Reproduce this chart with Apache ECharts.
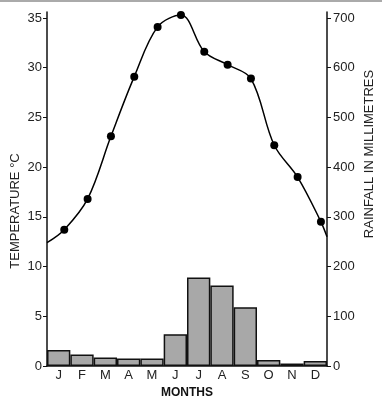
<!DOCTYPE html>
<html>
<head>
<meta charset="utf-8">
<script src="https://cdn.jsdelivr.net/npm/echarts@6/dist/echarts.min.js"></script>
<style>
html,body{margin:0;padding:0;background:#fff;}
#chart{width:382px;height:401px;}
</style>
</head>
<body>
<div id="chart"></div>
<script>
var months = ['J','F','M','A','M','J','J','A','S','O','N','D'];
var temperature = [13.7, 16.8, 23.1, 29.1, 34.1, 35.3, 31.6, 30.3, 28.9, 22.2, 19.0, 14.5];
var rainfall = [32, 23, 17, 15, 15, 64, 178, 162, 118, 12, 5, 10];
var tempStart = 12.4;   // curve value at left edge of the year
var tempEnd = 13.0;     // curve value at right edge of the year
var tempTicks = [0, 5, 10, 15, 20, 25, 30, 35];
var rainTicks = [0, 100, 200, 300, 400, 500, 600, 700];

var tempMax = 35.6;
var rainMax = tempMax * 20;
var pointShift = 0.74; // position of the plotted point inside each month

var lineData = [{value: [0, tempStart], symbol: 'none'}];
temperature.forEach(function (t, i) { lineData.push([i + pointShift, t]); });
lineData.push({value: [months.length, tempEnd], symbol: 'none'});

var chart = echarts.init(document.getElementById('chart'), null, {renderer: 'canvas'});
var axisColor = '#111';
var labelFont = {color: '#222', fontSize: 13, fontFamily: 'Liberation Sans, Arial, sans-serif'};

chart.setOption({
  animation: false,
  backgroundColor: '#fff',
  grid: {left: 47, right: 55, top: 12, bottom: 35, containLabel: false, outerBoundsMode: 'none'},
  xAxis: [{
    type: 'category',
    data: months,
    boundaryGap: true,
    axisLine: {lineStyle: {color: axisColor, width: 1.5}},
    axisTick: {show: false},
    axisLabel: Object.assign({margin: 3}, labelFont),
    name: 'MONTHS',
    nameLocation: 'middle',
    nameGap: 21,
    nameTextStyle: {color: '#111', fontSize: 12, fontWeight: 'bold', fontFamily: 'Liberation Sans, Arial, sans-serif'}
  }, {
    type: 'value',
    min: 0,
    max: months.length,
    show: false
  }],
  yAxis: [{
    type: 'value',
    min: 0,
    max: tempMax,
    interval: 5,
    splitLine: {show: false},
    axisLine: {show: true, lineStyle: {color: axisColor, width: 1.5}},
    axisTick: {show: true, length: 4, lineStyle: {color: axisColor, width: 1}},
    axisLabel: Object.assign({margin: 5, showMaxLabel: false,
      formatter: function (v) { return tempTicks.indexOf(v) >= 0 ? String(v) : ''; }}, labelFont)
  }, {
    type: 'value',
    min: 0,
    max: rainMax,
    interval: 100,
    position: 'right',
    splitLine: {show: false},
    axisLine: {show: true, lineStyle: {color: axisColor, width: 1.5}},
    axisTick: {show: true, length: 4, lineStyle: {color: axisColor, width: 1}},
    axisLabel: Object.assign({margin: 6, showMaxLabel: false,
      formatter: function (v) { return rainTicks.indexOf(v) >= 0 ? String(v) : ''; }}, labelFont)
  }],
  series: [{
    type: 'bar',
    xAxisIndex: 0,
    yAxisIndex: 1,
    data: rainfall,
    barWidth: '100%',
    barGap: '0%',
    itemStyle: {color: '#a8a8a8', borderColor: '#111', borderWidth: 1.5},
    z: 2
  }, {
    type: 'line',
    xAxisIndex: 1,
    yAxisIndex: 0,
    data: lineData,
    smooth: 0.35,
    symbol: 'circle',
    symbolSize: 8,
    lineStyle: {color: '#000', width: 1.5},
    itemStyle: {color: '#000'},
    z: 3
  }],
  graphic: [{
    type: 'text',
    x: 15, y: 211,
    rotation: Math.PI / 2,
    style: {text: 'TEMPERATURE °C', fill: '#222', fontSize: 13, fontFamily: 'Liberation Sans, Arial, sans-serif', align: 'center', verticalAlign: 'middle'}
  }, {
    type: 'text',
    x: 369, y: 154,
    rotation: Math.PI / 2,
    style: {text: 'RAINFALL IN MILLIMETRES', fill: '#222', fontSize: 13, fontFamily: 'Liberation Sans, Arial, sans-serif', align: 'center', verticalAlign: 'middle'}
  }, {
    type: 'rect',
    shape: {x: 0, y: 0, width: 382, height: 2},
    style: {fill: '#aaa'}
  }]
});
</script>
</body>
</html>
